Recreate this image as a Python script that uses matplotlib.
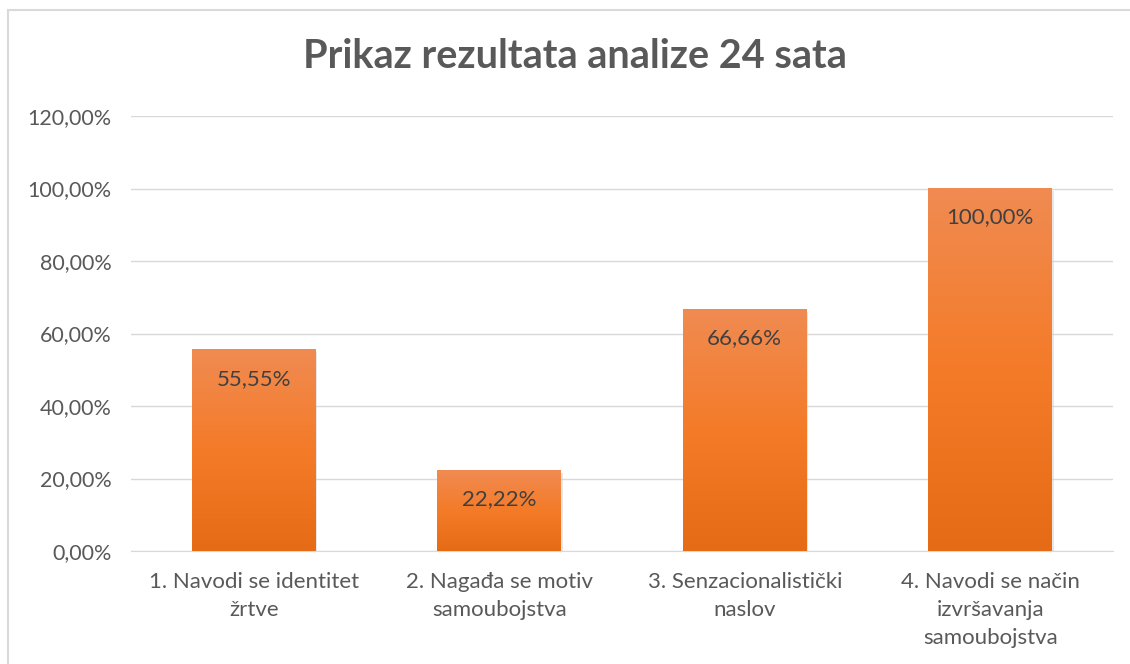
import numpy as np
import matplotlib.pyplot as plt
from matplotlib.colors import LinearSegmentedColormap
from matplotlib.patches import Rectangle

categories = [
    "1. Navodi se identitet\nžrtve",
    "2. Nagađa se motiv\nsamoubojstva",
    "3. Senzacionalistički\nnaslov",
    "4. Navodi se način\nizvršavanja\nsamoubojstva",
]
values = [55.55, 22.22, 66.66, 100.00]
labels = ["55,55%", "22,22%", "66,66%", "100,00%"]
yticks = [0, 20, 40, 60, 80, 100, 120]

plt.rcParams["font.family"] = ["Lato", "DejaVu Sans"]

fig = plt.figure(figsize=(11.3, 6.64), dpi=100)
ax = fig.add_axes([131 / 1130, 1 - 551 / 664, 982 / 1130, 435 / 664])

# chart frame (goes off the image on the right and bottom)
fig.patches.append(Rectangle((8 / 1130, -0.1), 1.2, 1 - 10 / 664 + 0.1,
                             transform=fig.transFigure, fill=False,
                             edgecolor="#d9d9d9", linewidth=1.5))

grad = LinearSegmentedColormap.from_list("g", ["#e66b16", "#f47b28", "#f08b52"])
gimg = np.linspace(0, 1, 256).reshape(-1, 1)

x = np.arange(len(categories))
bw = 0.505
bars = ax.bar(x, values, width=bw, color="none", zorder=3)
for b in bars:
    x0, h = b.get_x(), b.get_height()
    ax.imshow(gimg, cmap=grad, aspect="auto", origin="lower",
              extent=[x0, x0 + bw, 0, h], zorder=3)
    # soft shadow
    ax.add_patch(Rectangle((x0 + 0.006, -0.6), bw, h, facecolor="#cfcfcf",
                           edgecolor="none", alpha=0.5, zorder=2))

for xi, v, lab in zip(x, values, labels):
    ax.text(xi, v - 8, lab, ha="center", va="center", fontsize=16,
            color="#404040", zorder=4)

ax.set_xlim(-0.5, len(categories) - 0.5)
ax.set_ylim(0, 120)
ax.set_yticks(yticks)
ax.set_yticklabels([f"{t},00%" for t in yticks], fontsize=15.5, color="#595959")
ax.set_xticks(x)
ax.set_xticklabels(categories, fontsize=16, color="#595959")
for lbl in ax.get_xticklabels():
    lbl.set_multialignment("center")
    lbl.set_linespacing(1.5)
ax.tick_params(length=0)
ax.tick_params(axis="x", pad=15)
ax.tick_params(axis="y", pad=14)
ax.grid(axis="y", color="#d9d9d9", linewidth=1, zorder=0)
for s in ["top", "right", "left"]:
    ax.spines[s].set_visible(False)
ax.spines["bottom"].set_color("#d9d9d9")

fig.text(575 / 1130, 1 - 57 / 664, "Prikaz rezultata analize 24 sata",
         ha="center", va="center", fontsize=28.5, fontweight="bold", color="#595959")

fig.savefig("out.png", dpi=100)
